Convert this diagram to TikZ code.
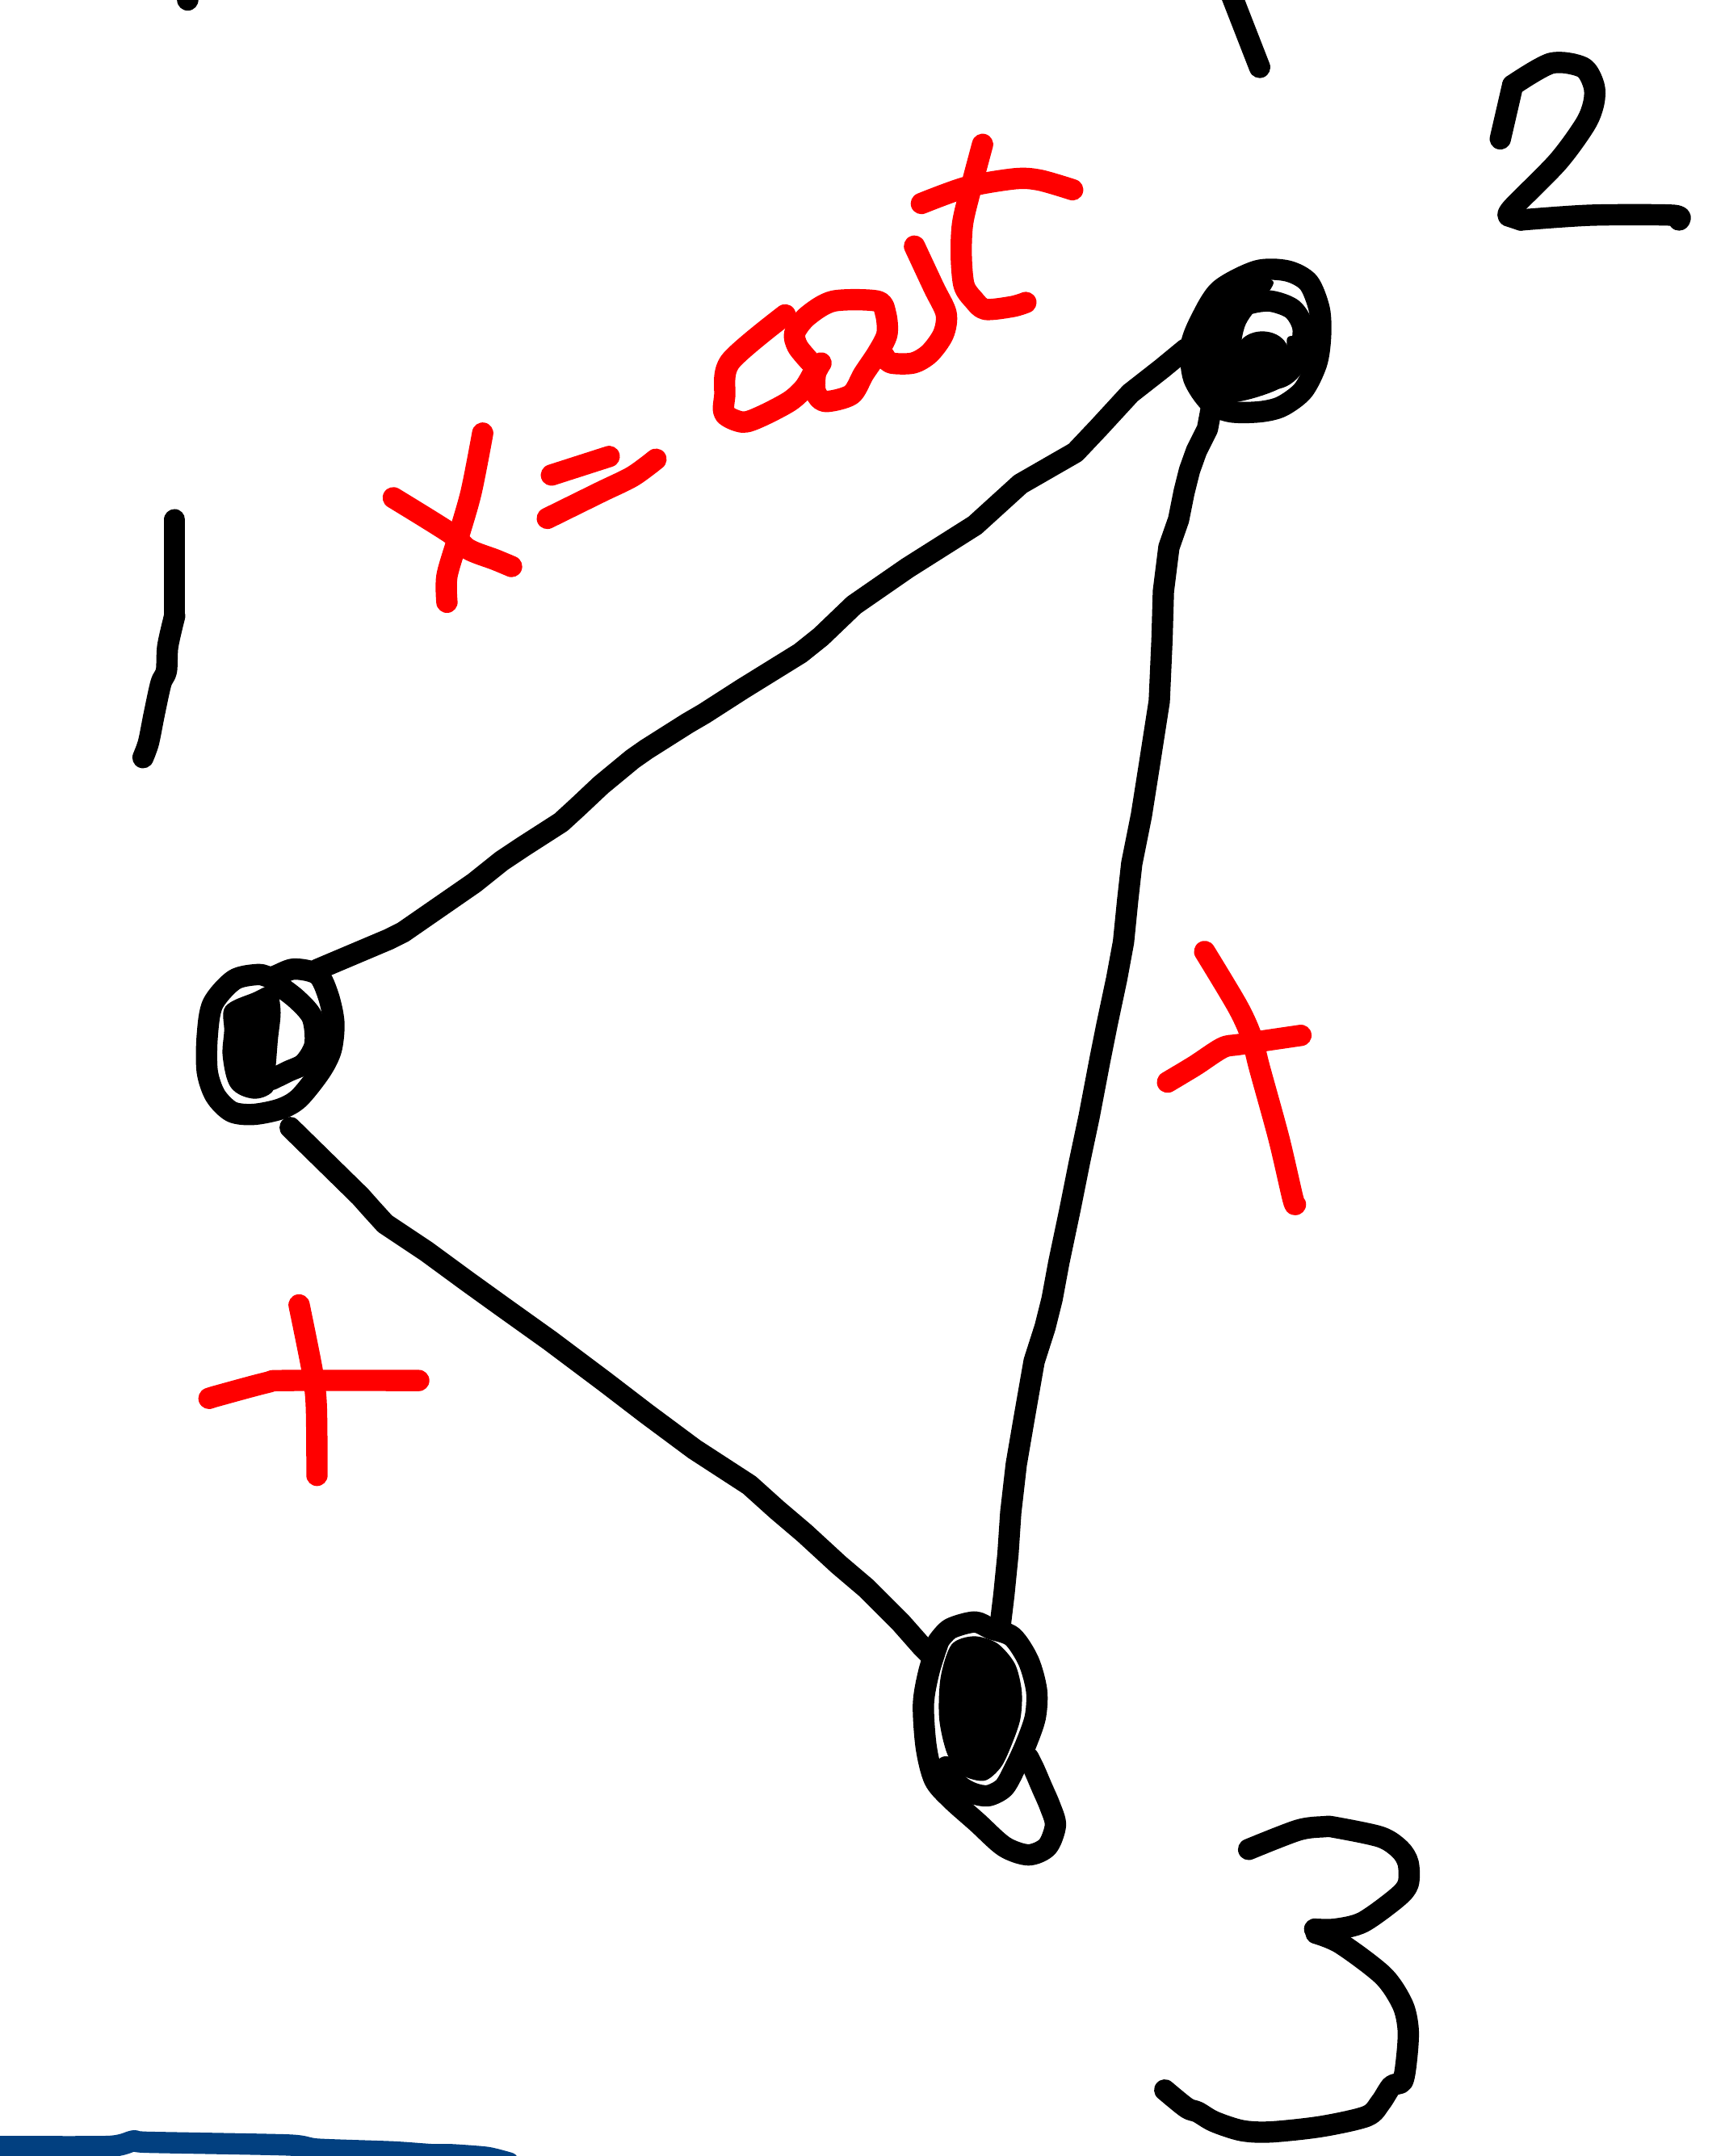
\documentclass[tikz,border=0pt]{standalone}
\definecolor{inkblue}{RGB}{2,64,128}
\definecolor{inkred}{RGB}{255,0,0}
\begin{document}
\begin{tikzpicture}[x=1pt,y=-1pt,
  ink/.style={line width=15.5pt,line cap=round,line join=round},
  blackink/.style={ink,draw=black},
  redink/.style={ink,draw=inkred},
  blueink/.style={ink,draw=inkblue},
  blob/.style={fill=black,draw=none}]
\useasboundingbox (0,0) rectangle (1254,1568);

% vertices
\coordinate (A) at (195,758);
\coordinate (B) at (912,247);
\coordinate (C) at (712,1250);
\coordinate (Aout) at (231,705);
\coordinate (Bin) at (862,254);
\coordinate (Bout) at (881,296);
\coordinate (Cin) at (727,1185);
\coordinate (Aout2) at (211,820);
\coordinate (Cin2) at (677,1204);

% stray marks at the top
\draw[blackink] (136,-10) -- (136.5,0);
\draw[blackink] (893,-10) -- (916,49);

% digit 1
\draw[blackink] (127,378) -- (127,448);
\draw[blackink] plot[smooth,tension=0.5] coordinates {(127,448)(122,470)(121,488)(117,497)(112,520)(108,540)(104,551)};

% digit 2
\draw[blackink] (1091,101) -- (1100,62);
\draw[blackink] plot[smooth,tension=0.5] coordinates {(1100,62)(1128,46)(1151,49)(1159,62)(1159,74.5)(1153,90)(1133,117.5)(1100,151)(1097,157)};
\draw[blackink] (1097,157) -- (1106,160);
\draw[blackink] plot[smooth,tension=0.5] coordinates {(1106,160)(1157,156.5)(1216,156.5)(1221,160)};

% digit 3
\draw[blackink] plot[smooth,tension=0.5] coordinates {(908,1345)(944,1331)(963,1328.5)(971,1329)(1004,1336)(1018,1345)(1024,1355)(1024,1370)(1016,1380)(991,1398)(971,1403)(956,1403)};
\draw[blackink] plot[smooth,tension=0.5] coordinates {(957,1406)(975,1413.5)(1006,1437)(1020,1458)(1024,1476)(1023,1496)(1020,1513.5)(1012,1517)(1004,1529)(994,1539)(961,1546.5)(924,1550.5)(903,1549.5)(883,1543)(871,1536)(863,1533)(847,1520)};

% vertex A scribble
\fill[blob] plot[smooth cycle,tension=0.6] coordinates {(164,732)(184,722)(199,717)(204,734)(202,757)(200,781)(198,794)(184,799)(168,791)(162,769)(163,750)};
\draw[blackink] plot[smooth cycle,tension=0.5] coordinates {(150.7,753.7)(154.7,730.2)(170.3,712.6)(188,708.7)(197.7,710.6)(213.4,704.8)(231,708.7)(238.8,724.4)(242.8,743.9)(240.8,763.5)(233,779.2)(217.3,798.8)(203.6,806.6)(184,810.5)(168.4,808.5)(156.6,796.8)(150.7,779.2)};
\draw[blackink] plot[smooth,tension=0.5] coordinates {(199.7,714.6)(215.3,726.3)(227.1,740)(229,759.6)(221.2,773.3)(209.5,779.2)(197.7,785)};

% vertex B scribble
\fill[blob] plot[smooth cycle,tension=0.5] coordinates {(868,240)(883,214)(908,201)(926,205)(916,221)(905,238)(903,262)(922,272)(935,262)(936,246)(942,246)(943,264)(933,281)(906,291)(880,293)(866,273)};
\fill[blob] (918,256) ellipse [x radius=19,y radius=15];
\draw[blackink] plot[smooth cycle,tension=0.5] coordinates {(873,233)(887,211)(914,197)(936,197)(951.5,205.5)(959.4,225)(960.3,244.7)(957.4,264.3)(947.6,283.9)(932,295.6)(916,299.5)(895,299.5)(880,293)(868,275)(866,252)};
\draw[blackink] plot[smooth,tension=0.5] coordinates {(900.6,280)(932,274)(944,260)(947.6,239)(940,225)(924,219)(908,221)(895,228)};

% vertex C scribble
\fill[blob] plot[smooth cycle,tension=0.5] coordinates {(692,1196)(708,1190)(725,1195)(738,1210)(743,1230)(742,1250)(736,1268)(728,1285)(716,1295)(700,1291)(689,1276)(683,1250)(684,1220)};
\draw[blackink] plot[smooth,tension=0.5] coordinates {(682,1194)(691,1184.5)(708.8,1179.6)(720.5,1184.5)(736.2,1190.3)(747.9,1208)(753.8,1229.5)(752.8,1249)(746,1268.6)(738,1286)(730,1300)(718.5,1306)(707,1304)(697,1298)(688,1285)};
\draw[blackink] plot[smooth,tension=0.5] coordinates {(682.3,1194.3)(675.5,1215.8)(671.5,1239.3)(673.5,1270.6)(679.4,1294)(691,1307.8)(710.7,1325.4)(730.3,1343)(747.9,1349)(761.6,1343)(767.5,1327.4)(763.6,1313.7)(757.7,1300)(751.8,1286.3)(747.9,1278.5)};

% edge A-B
\draw[blackink] (Aout) -- (283,683) -- (293,678) -- (345,642) -- (365,626) -- (380,616) -- (408,598) -- (420,587) -- (437,571) -- (460,552) -- (470,545) -- (500,526) -- (512,519) -- (540,501) -- (582,475) -- (597,463) -- (621,440) -- (660,413) -- (709,382) -- (742,352) -- (782,329) -- (799,311) -- (822,286) -- (845,268) -- (Bin);

% edge B-C
\draw[blackink] (Bout) -- (878,312) -- (870,328) -- (865,342) -- (861,358) -- (857,378) -- (850,398) -- (846,430) -- (845,465) -- (843,510) -- (836,555) -- (830,593) -- (823,628) -- (820,655) -- (817,685) -- (812,712) -- (805,745) -- (800,770) -- (792,812) -- (785,845) -- (778,880) -- (770,918) -- (765,945) -- (760,965) -- (752,990) -- (745,1030) -- (739,1065) -- (735,1100) -- (733,1130) -- (730,1160) -- (Cin);

% edge A-C
\draw[blackink] (Aout2) -- (262,870) -- (270,879) -- (280,890) -- (292,898) -- (310,910) -- (340,932) -- (365,950) -- (400,975) -- (440,1005) -- (470,1028) -- (505,1054) -- (525,1067) -- (545,1080) -- (565,1098) -- (585,1115) -- (610,1138) -- (630,1155) -- (655,1180) -- (670,1197) -- (Cin2);

% red handwriting: x = at
\draw[redink] plot[smooth,tension=0.5] coordinates {(351,315)(342.6,358)(333,391.5)(325,419)(325,438)};
\draw[redink] plot[smooth,tension=0.5] coordinates {(286,362)(327,387.5)(340.7,399.5)(360,407)(372,412)};
\draw[redink] (401,345.5) -- (443,332);
\draw[redink] plot[smooth,tension=0.5] coordinates {(398,377)(436.5,358)(460,346.5)(477,334)};
\draw[redink] plot[smooth,tension=0.5] coordinates {(571,229)(531,263)(527,288)(527,301)(540,307)(553,303)(574,292)(585,282)(592,270)};
\draw[redink] plot[smooth,tension=0.5] coordinates {(589,263)(580,252)(578,242)(587,230)(606,219)(638,219)(644,228)(645,243)(638,257)(628,272)(619,287)(600,292)(593,285)(593,272)(597,264)};
\draw[redink] plot[smooth,tension=0.5] coordinates {(665,179)(679,209)(688,228)(686,243)(676,257)(664,264)(648,264)(643,259)};
\draw[redink] plot[smooth,tension=0.5] coordinates {(714.5,105)(706,137)(700,162.5)(699,186)(701,207.5)(708,218)(716.5,225)(736,223)(746,220)};
\draw[redink] plot[smooth,tension=0.5] coordinates {(670,148)(703,136)(738,130)(756,131)(780,138)};

% red x on the right
\draw[redink] plot[smooth,tension=0.5] coordinates {(876,692)(900,732)(910,754)(916,777)(930,828)(940,871)(942,876)};
\draw[redink] plot[smooth,tension=0.5] coordinates {(849,787)(869,775)(889,762)(902,759.5)(946,753)};

% red + on the left
\draw[redink] plot[smooth,tension=0.5] coordinates {(217.5,949)(227,996.5)(230,1022)(230.5,1073)};
\draw[redink] plot[smooth,tension=0.5] coordinates {(152,1017)(158.6,1015)(194,1005.5)(207.5,1004)(304.5,1004)};

% blue stroke at the bottom
\draw[blueink] plot[smooth,tension=0.4] coordinates {(-10,1561)(78.6,1561)(97,1557)(107.5,1558)(209.8,1560)(230.7,1563)(285.8,1565)(314.6,1567)(327.7,1567)(354,1569)(370,1573)};
\end{tikzpicture}
\end{document}
